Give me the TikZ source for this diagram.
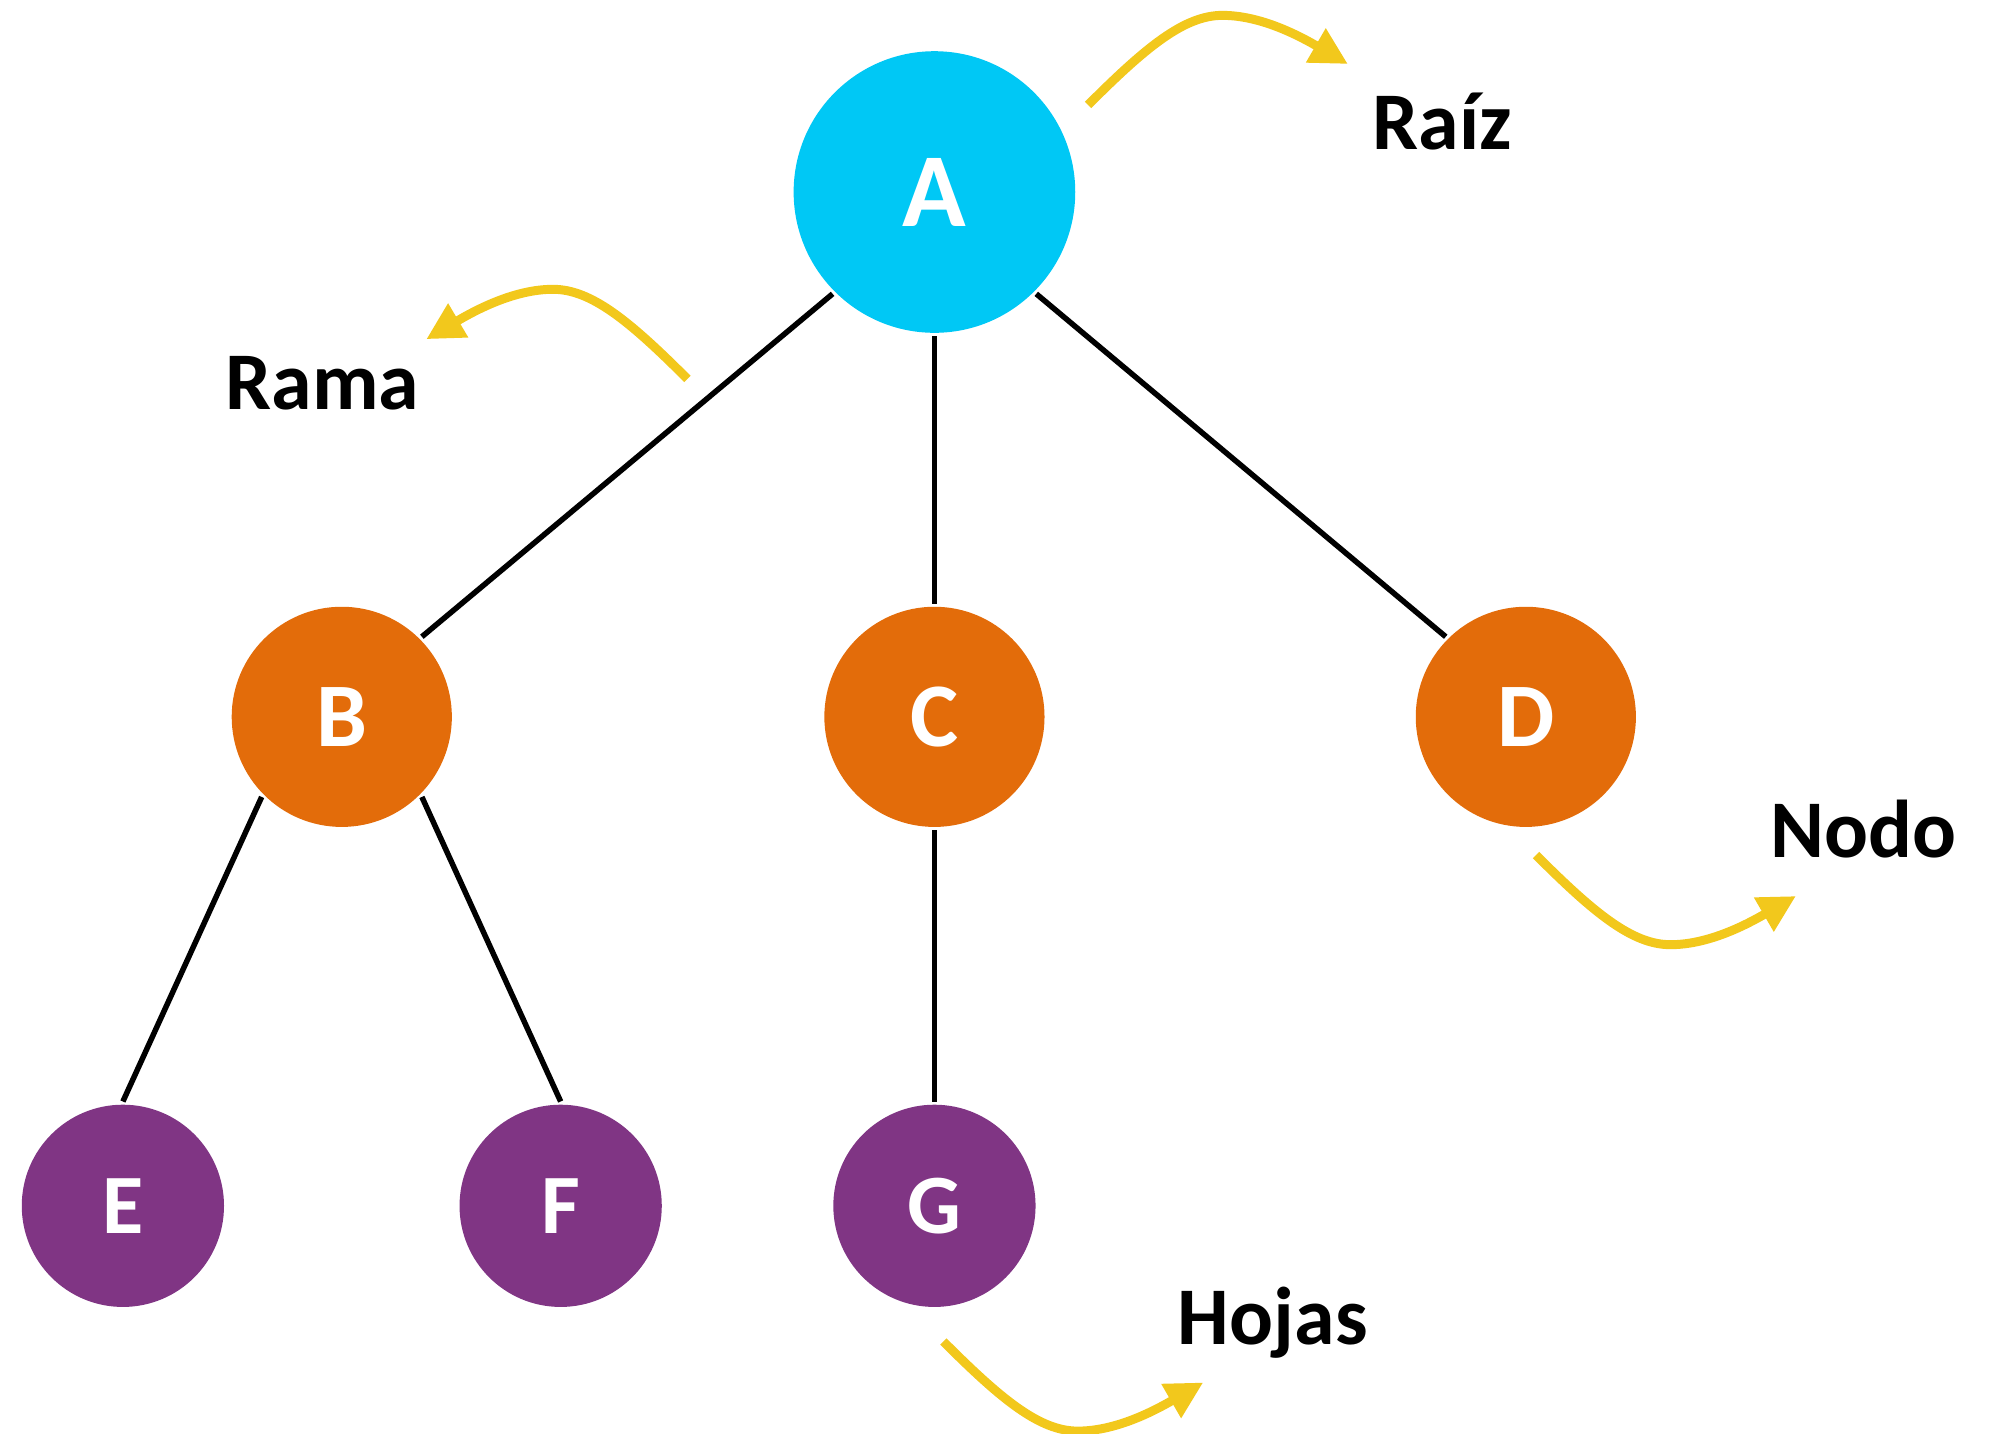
\documentclass[tikz,border=0pt]{standalone}
\usepackage{fontspec}
\setmainfont{Carlito}
\usetikzlibrary{arrows.meta}
\definecolor{rootc}{RGB}{0,200,245}
\definecolor{midc}{RGB}{227,108,10}
\definecolor{leafc}{RGB}{128,53,132}
\definecolor{arrc}{RGB}{242,200,28}
\tikzset{
  treenode/.style={circle,inner sep=0pt,outer sep=2.5pt,text=white,font=\bfseries},
  rootnode/.style={treenode,fill=rootc,minimum size=220pt,font=\bfseries\fontsize{82}{90}\selectfont},
  midnode/.style={treenode,fill=midc,minimum size=172pt,font=\bfseries\fontsize{71}{80}\selectfont},
  leafnode/.style={treenode,fill=leafc,minimum size=158pt,font=\bfseries\fontsize{66}{74}\selectfont},
  branch/.style={line width=4.3pt,black},
  callout/.style={line width=7pt,arrc,-{Triangle[length=29pt,width=29pt]}},
  lbl/.style={anchor=base west,inner sep=0pt,font=\bfseries\fontsize{64}{72}\selectfont}
}
\begin{document}
\begin{tikzpicture}[x=1pt,y=-1pt]
\useasboundingbox (0,0) rectangle (1564,1120);
\node[rootnode] (A) at (730,150) {A};
\node[midnode] (B) at (267,560) {B};
\node[midnode] (C) at (730,560) {C};
\node[midnode] (D) at (1192,560) {D};
\node[leafnode] (E) at (96,942) {E};
\node[leafnode] (F) at (438,942) {F};
\node[leafnode] (G) at (730,942) {G};
\draw[branch] (A.south west) -- (B.north east);
\draw[branch] (A.south) -- (C.north);
\draw[branch] (A.south east) -- (D.north west);
\draw[branch] (B.south west) -- (E.north);
\draw[branch] (B.south east) -- (F.north);
\draw[branch] (C.south) -- (G.north);
\node[lbl] (raiz) at (1072,117) {Raíz};
\node[lbl] (rama) at (176,320) {Rama};
\node[lbl] (nodo) at (1383,670) {Nodo};
\node[lbl] (hojas) at (920,1050) {Hojas};
% callout arrows
\coordinate (s1) at (850,82);  \coordinate (t1) at (1053,50);
\coordinate (s2) at (537,296); \coordinate (t2) at (333,265);
\coordinate (s3) at (1200,668); \coordinate (t3) at (1403,700);
\coordinate (s4) at (737,1048); \coordinate (t4) at (940,1080);
\draw[callout] (s1) .. controls (895,37) and (925,12) .. (955,12)
  .. controls (985,12) and (1015,28) .. (t1);
\draw[callout] (s2) .. controls (492,251) and (462,226) .. (432,226)
  .. controls (402,226) and (372,242) .. (t2);
\draw[callout] (s3) .. controls (1245,713) and (1275,738) .. (1305,738)
  .. controls (1335,738) and (1365,722) .. (t3);
\draw[callout] (s4) .. controls (782,1093) and (812,1118) .. (842,1118)
  .. controls (872,1118) and (902,1102) .. (t4);
\end{tikzpicture}
\end{document}
